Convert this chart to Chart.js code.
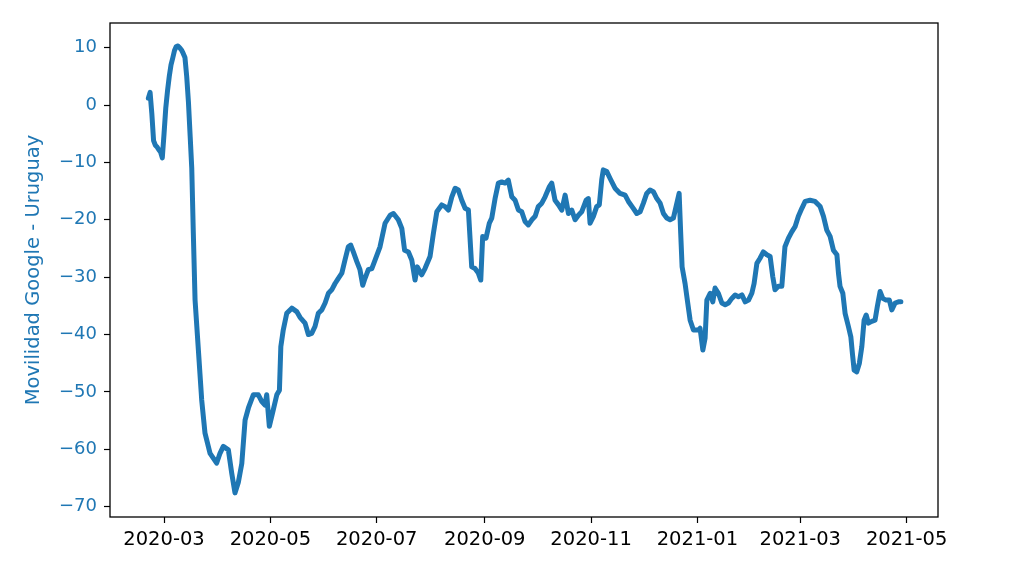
<!DOCTYPE html>
<html>
<head>
<meta charset="utf-8">
<script src="https://cdn.jsdelivr.net/npm/chart.js@4/dist/chart.umd.min.js"></script>
<style>
  body { margin: 0; background: #fff; }
  canvas { display: block; }
</style>
</head>
<body>
<canvas id="movilidad" width="1024" height="571"></canvas>
<script>
// days counted from 2020-03-01
const days = [
  -9, -8, -7, -6, -5, -4, -3, -2, -1, 0, 1, 2, 3, 4, 5, 6, 7, 8, 9, 10, 11, 12, 13, 14, 15,
  15.9, 16.8, 17.8, 19.7, 21.6, 23.5, 26.4, 30.2, 32.1, 34.0, 36.9, 38.8, 40.7, 42.6, 44.6,
  46.5, 48.4, 51.2, 54.1, 56.1, 57.9, 58.9, 60.4, 62.7, 64.7, 66.2, 67.0, 68.4, 70.4, 73.3,
  76.1, 78.0, 80.9, 82.8, 84.7, 86.6, 88.5, 90.5, 92.4, 94.3, 96.2, 98.1, 100.0, 102.0,
  103.8, 105.7, 107.1, 108.6, 110.6, 112.4, 114.0, 115.3, 117.2, 119.2, 121.1, 123.9, 126.8,
  129.7, 131.6, 134.4, 136.4, 138.0, 140.2, 142.1, 144.0, 145.3, 147.8, 149.7, 152.6, 154.5,
  156.5, 159.3, 161.2, 163.1, 165.1, 167.0, 168.8, 170.8, 172.7, 174.6, 176.5, 178.4, 180.3,
  181.7, 182.8, 184.7, 186.6, 188.0, 189.9, 191.8, 193.7, 195.6, 197.5, 199.5, 201.4, 203.3,
  205.2, 207.1, 209.0, 211.0, 212.9, 214.7, 216.7, 218.6, 221.1, 222.4, 224.3, 226.3, 228.2,
  230.1, 232.0, 233.9, 235.8, 237.7, 239.6, 242.1, 243.4, 244.4, 246.3, 248.2, 249.7, 251.1,
  252.0, 254.0, 255.9, 258.7, 261.6, 264.5, 266.4, 269.2, 271.2, 273.1, 275.0, 276.9, 278.8,
  280.7, 282.7, 284.6, 286.5, 288.4, 290.3, 292.2, 294.2, 295.5, 296.4, 297.2, 298.9, 300.2,
  301.8, 303.7, 306.5, 307.5, 309.1, 310.4, 311.4, 313.3, 314.8, 316.1, 318.0, 320.0, 321.9,
  323.8, 325.7, 327.6, 329.5, 331.5, 333.4, 335.3, 337.2, 338.5, 340.1, 341.9, 343.8, 345.8,
  347.7, 349.2, 350.5, 352.4, 354.4, 356.2, 358.2, 360.1, 362.0, 363.9, 365.9, 367.8, 370.6,
  373.5, 376.4, 378.3, 380.2, 382.1, 384.0, 386.0, 386.9, 387.8, 389.4, 390.7, 392.6, 394.0,
  394.9, 395.9, 397.4, 398.9, 400.3, 401.6, 402.8, 404.1, 406.0, 407.9, 409.2, 410.8, 412.3,
  414.2, 416.1, 417.5, 419.4, 421.3, 422.7
];
const values = [
  1.2, 2.2, -1.5, -6.2, -7.0, -7.3, -7.8, -8.2, -9.2, -5, -0.5, 2.5, 5, 7, 8.2, 9.5, 10.2, 10.3, 10, 9.6, 9, 8.3, 5, 0.5, -5.5,
  -11, -22.3, -34, -42.7, -51.4, -57.2, -60.7, -62.4, -60.7, -59.5, -60.1, -64.1, -67.6, -65.8, -62.5,
  -54.9, -52.8, -50.5, -50.5, -51.7, -52.3, -50.5, -56, -53.1, -50.5, -49.7, -42.1, -39.2, -36.3, -35.4,
  -36, -37, -38, -40, -39.8, -38.6, -36.3, -35.7, -34.5, -32.8, -32.2, -31.1, -30.2, -29.3,
  -27, -24.7, -24.4, -25.6, -27.3, -28.7, -31.4, -30.2, -28.7, -28.5, -27, -24.7, -20.6,
  -19.2, -18.9, -20, -21.5, -25.3, -25.6, -27, -30.5, -28.2, -29.6, -28.5, -26.4, -22.4,
  -18.6, -17.4, -17.7, -18.3, -16, -14.5, -14.8, -16.6, -18, -18.3, -28.2, -28.5, -29.3,
  -30.5, -22.9, -23.2, -20.6, -19.7, -16.3, -13.6, -13.4, -13.6, -13.1, -16, -16.6, -18.3,
  -18.6, -20.3, -20.9, -20, -19.4, -17.7, -17.1, -16, -14.2, -13.6, -16.6, -17.4, -18.3,
  -15.7, -18.9, -18.3, -20, -19.2, -18.6, -16.6, -16.3, -20.6, -19.4, -17.7, -17.4, -13,
  -11.3, -11.6, -12.8, -14.5, -15.4, -15.7, -16.8, -18, -18.9, -18.6, -17.1, -15.4, -14.8,
  -15.1, -16.3, -17.1, -18.9, -19.7, -20, -19.7, -17.1, -15.4, -22.4, -28.2, -31.1, -34,
  -37.5, -39.2, -39.2, -38.9, -42.7, -40.6, -34, -32.8, -34.3, -31.9, -32.8, -34.5, -34.8,
  -34.5, -33.7, -33.1, -33.4, -33.1, -34.3, -34, -32.8, -31.1, -27.6, -26.7, -25.6, -26.1,
  -26.4, -29.9, -32.2, -31.6, -31.6, -24.7, -23.2, -22.1, -21.2, -19.4, -18, -16.8, -16.6,
  -16.8, -17.7, -19.4, -21.8, -22.9, -25.3, -26.1, -29.3, -31.6, -32.8, -36.3, -38.6, -40.4,
  -43.3, -46.2, -46.5, -45, -42.1, -37.5, -36.6, -38, -37.7, -37.5, -35.1, -32.5, -33.7,
  -34, -34, -35.7, -34.5, -34.3, -34.3
];
const monthTicks = ['2020-03', '2020-05', '2020-07', '2020-09', '2020-11', '2021-01', '2021-03', '2021-05'];
const yTicks = [10, 0, -10, -20, -30, -40, -50, -60, -70];
const yTitle = 'Movilidad Google - Uruguay';

const origin = Date.UTC(2020, 2, 1);
const dayMs = 86400000;
function monthToDay(s) {
  const [y, m] = s.split('-').map(Number);
  return (Date.UTC(y, m - 1, 1) - origin) / dayMs;
}
function dayToMonth(d) {
  const dt = new Date(origin + d * dayMs);
  return dt.getUTCFullYear() + '-' + String(dt.getUTCMonth() + 1).padStart(2, '0');
}

const points = days.map((d, i) => ({ x: d, y: values[i] }));
const blue = '#1f77b4';
const bigFont = { family: 'DejaVu Sans', size: 19.5 };
const yFont = { family: 'DejaVu Sans', size: 18 };

// matplotlib-like box around the plot
const frame = {
  id: 'frame',
  afterDraw(chart) {
    const { ctx, chartArea: a } = chart;
    ctx.save();
    ctx.strokeStyle = '#000';
    ctx.lineWidth = 1.3;
    ctx.strokeRect(a.left, a.top, a.right - a.left, a.bottom - a.top);
    ctx.restore();
  }
};

new Chart(document.getElementById('movilidad'), {
  type: 'line',
  data: {
    datasets: [{
      data: points,
      borderColor: blue,
      borderWidth: 5,
      pointRadius: 0,
      tension: 0,
      borderJoinStyle: 'round',
      borderCapStyle: 'round',
      fill: false
    }]
  },
  options: {
    responsive: false,
    animation: false,
    devicePixelRatio: 1,
    layout: { padding: { top: 23, right: 86, bottom: 0, left: 0 } },
    plugins: { legend: { display: false }, tooltip: { enabled: false } },
    scales: {
      x: {
        type: 'linear',
        min: -31,
        max: 444,
        afterFit(s) { s.height = 54; },
        afterBuildTicks(s) { s.ticks = monthTicks.map(t => ({ value: monthToDay(t) })); },
        border: { display: false },
        grid: { drawOnChartArea: false, drawTicks: true, tickLength: 6, color: '#000', tickWidth: 1.2 },
        ticks: {
          color: '#000',
          font: bigFont,
          padding: 5,
          maxRotation: 0,
          autoSkip: false,
          callback: v => dayToMonth(v)
        }
      },
      y: {
        type: 'linear',
        min: -71.8,
        max: 14.3,
        afterFit(s) { s.width = 110; },
        afterBuildTicks(s) { s.ticks = yTicks.map(v => ({ value: v })); },
        border: { display: false },
        grid: { drawOnChartArea: false, drawTicks: true, tickLength: 6, color: '#000', tickWidth: 1.2 },
        ticks: {
          color: blue,
          font: yFont,
          padding: 7,
          autoSkip: false,
          callback: v => (v < 0 ? '\u2212' + Math.abs(v) : String(v))
        },
        title: {
          display: true,
          text: yTitle,
          color: blue,
          font: bigFont,
          padding: { top: 22, bottom: 0 }
        }
      }
    }
  },
  plugins: [frame]
});
</script>
</body>
</html>
